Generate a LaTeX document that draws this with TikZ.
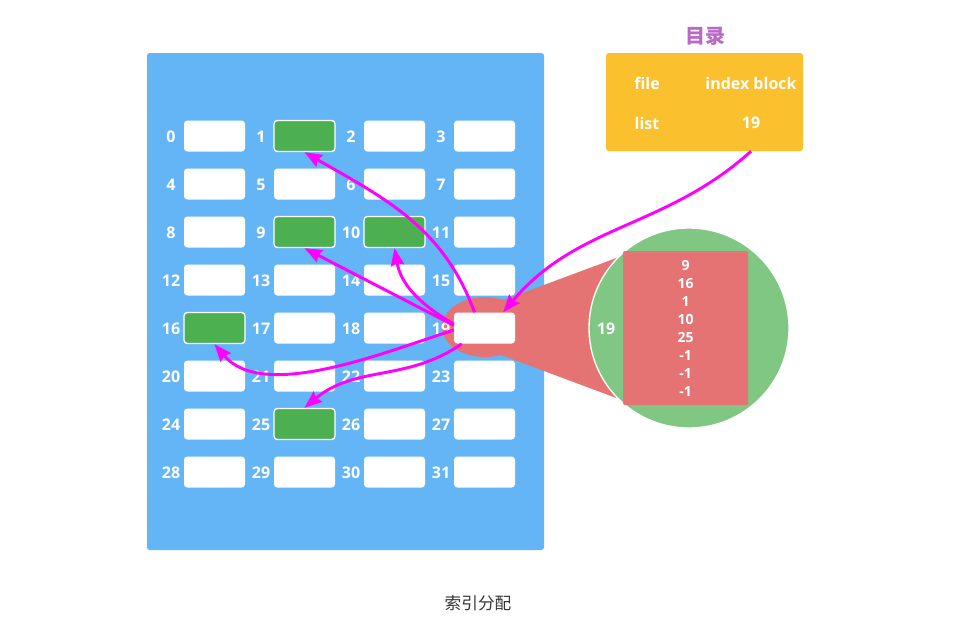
\documentclass[tikz,border=0pt]{standalone}
\usepackage{fontspec}
\setmainfont{Open Sans}
\newfontfamily\cjk{Noto Sans CJK SC}
\usetikzlibrary{arrows.meta, positioning, shapes, calc}
\definecolor{colorDisk}{RGB}{100, 181, 246}
\definecolor{colorUsed}{RGB}{76, 175, 80}
\definecolor{colorLens}{RGB}{129, 199, 132}
\definecolor{colorZoom}{RGB}{229, 115, 115}
\definecolor{colorDir}{RGB}{251, 192, 45}
\definecolor{colorTitle}{RGB}{186, 104, 200}
\definecolor{colorPtr}{RGB}{255, 0, 255}
\definecolor{colorCap}{RGB}{51, 51, 51}

\begin{document}
\begin{tikzpicture}[
  x=0.75pt, y=0.75pt,
  panel/.style={fill=colorDisk,rounded corners=2pt,minimum width=297.75pt,
    minimum height=372.75pt,inner sep=0pt},
  free/.style={fill=white,rounded corners=2.5pt,minimum width=45.75pt,
    minimum height=23.25pt,inner sep=0pt},
  used/.style={free,fill=colorUsed,draw=white,line width=1pt},
  num/.style={text=white,font=\fontsize{12}{14}\selectfont\bfseries,inner sep=0pt},
  small/.style={text=white,font=\fontsize{10.5}{13.5}\selectfont\bfseries,align=center},
  ptr/.style={-{Stealth[length=13pt,width=10pt,inset=1.5pt]},line width=2.2pt,colorPtr},
]
\useasboundingbox (0,0) rectangle (955,-636);

% Disk
\node[panel] (disk) at (345.5,-301.5) {};

% Magnifier
\coordinate (lens) at (689,-328);
\node[ellipse,fill=colorZoom,minimum width=64.5pt,minimum height=45pt] (zoom) at (485,-327) {};
\fill[colorZoom] (zoom.55) -- ($(lens)+(135:100)$) -- ($(lens)+(225:100)$) -- (zoom.-60) -- cycle;
\node[circle,fill=colorLens,draw=white,line width=1pt,minimum size=150pt,inner sep=0pt] (detail) at (lens) {};
\node[fill=colorZoom,rounded corners=1.5pt,minimum width=93.75pt,minimum height=115.5pt,inner sep=0pt] (blk) at (685.5,-328) {};
\node[small] (entries) at (blk) {9\\16\\1\\10\\25\\-1\\-1\\-1};
\node[num] (blkno) at (606,-329) {19};

% Blocks
\foreach \i in {0,...,31}{
  \pgfmathtruncatemacro\col{mod(\i,4)}
  \pgfmathtruncatemacro\row{div(\i,4)}
  \pgfmathtruncatemacro\taken{(\i==1)||(\i==9)||(\i==10)||(\i==16)||(\i==25)}
  \ifnum\taken=1 \def\sty{used}\else\def\sty{free}\fi
  \node[\sty] (c\i) at (214.5+90*\col,-136-48*\row) {};
  \node[num] (n\i) at (171+90*\col,-137-48*\row) {\i};
}

% Directory
\node[fill=colorDir,rounded corners=2pt,minimum width=147.75pt,minimum height=73.5pt,inner sep=0pt] (dir) at (704.5,-102) {};
\node[text=colorTitle,font=\cjk\fontsize{15}{17}\selectfont\bfseries] (title) at (705,-36) {目录};
\node[num] (hfile) at (647,-83) {file};
\node[num] (hidx) at (751,-83) {index block};
\node[num] (fname) at (647,-123) {list};
\node[num] (fidx) at (751,-123) {19};

% Caption
\node[text=colorCap,font=\cjk\fontsize{12.5}{15}\selectfont] (cap) at (478,-603) {索引分配};

% Pointers
\draw[ptr] (fidx |- dir.south) to[out=222,in=50] ([xshift=14pt]c19.north);
\draw[ptr] ([xshift=-7.5pt]c19.north) to[out=110,in=-30] (c1.south);
\draw[ptr] ([yshift=2pt]c19.west) -- (c9.south);
\draw[ptr] ([yshift=3pt]c19.west) to[out=150,in=-80] (c10.south);
\draw[ptr] ([yshift=-1.5pt]c19.west) to[out=198,in=-50,looseness=0.8] (c16.south);
\draw[ptr] ([xshift=6pt]c19.south west) to[out=215,in=40] (c25.north);

\end{tikzpicture}
\end{document}
